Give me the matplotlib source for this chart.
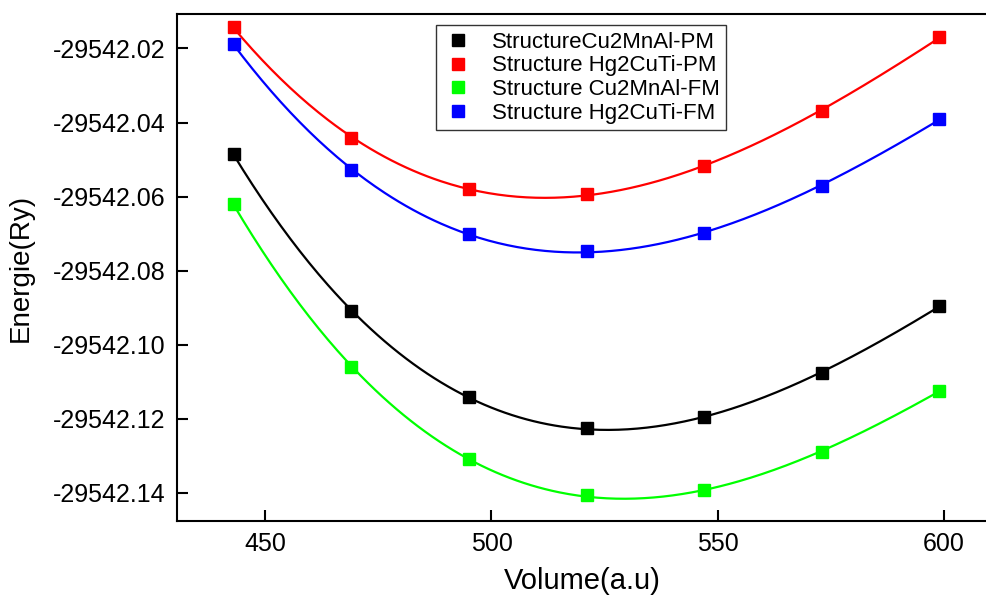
import numpy as np
import matplotlib
matplotlib.use("Agg")
import matplotlib.pyplot as plt
from matplotlib.ticker import FormatStrFormatter

plt.rcParams['font.family'] = ['Liberation Sans', 'DejaVu Sans']

# Volume (a.u) and total energy (Ry)
volume = [443, 469, 495, 521, 547, 573, 599]
e_cu2mnal_pm = [-29542.0485, -29542.0910, -29542.1142, -29542.1225, -29542.1194, -29542.1077, -29542.0895]
e_hg2cuti_pm = [-29542.0143, -29542.0441, -29542.0580, -29542.0593, -29542.0517, -29542.0368, -29542.0170]
e_cu2mnal_fm = [-29542.0620, -29542.1061, -29542.1308, -29542.1407, -29542.1392, -29542.1290, -29542.1124]
e_hg2cuti_fm = [-29542.0188, -29542.0528, -29542.0702, -29542.0747, -29542.0697, -29542.0571, -29542.0391]

labels = ["StructureCu2MnAl-PM", "Structure Hg2CuTi-PM",
          "Structure Cu2MnAl-FM", "Structure Hg2CuTi-FM"]
colors = ["#000000", "#ff0000", "#00ff00", "#0000ff"]
series = [e_cu2mnal_pm, e_hg2cuti_pm, e_cu2mnal_fm, e_hg2cuti_fm]

fig = plt.figure(figsize=(9.87, 5.96), dpi=100)
ax = fig.add_axes([0.1793, 0.1258, 0.8207, 0.8507])

v = np.array(volume, dtype=float)
vfine = np.linspace(v[0], v[-1], 300)
v0 = v.mean()
for e, c, lab in zip(series, colors, labels):
    e = np.array(e)
    e0 = e.mean()
    # smooth fit of E(V), as in the original figure
    coef = np.polyfit(v - v0, e - e0, 3)
    ax.plot(vfine, np.polyval(coef, vfine - v0) + e0, color=c, lw=1.6, zorder=2)
    ax.plot(v, e, ls="none", marker="s", ms=9, color=c, label=lab, zorder=3)

ax.set_xlim(430.5, 609.5)
ax.set_ylim(-29542.1476, -29542.0107)
ax.set_xticks([450, 500, 550, 600])
ax.set_yticks([-29542.14, -29542.12, -29542.10, -29542.08, -29542.06, -29542.04, -29542.02])
ax.yaxis.set_major_formatter(FormatStrFormatter('%.2f'))
ax.tick_params(direction="in", length=8, width=1.5, labelsize=18, pad=8)
ax.spines['right'].set_visible(False)
for s in ['left', 'bottom', 'top']:
    ax.spines[s].set_linewidth(1.5)

ax.set_xlabel("Volume(a.u)", fontsize=21, labelpad=8)
ax.set_ylabel("Energie(Ry)", fontsize=20, labelpad=14)

leg = ax.legend(loc="upper left", bbox_to_anchor=(0.320, 0.978), borderaxespad=0,
                fontsize=16, frameon=True, fancybox=False, handletextpad=0.8,
                borderpad=0.3, labelspacing=0.12, handlelength=1.4)
leg.get_frame().set_edgecolor("black")
leg.get_frame().set_linewidth(1.0)

plt.savefig("out.png", dpi=100)
plt.close()
